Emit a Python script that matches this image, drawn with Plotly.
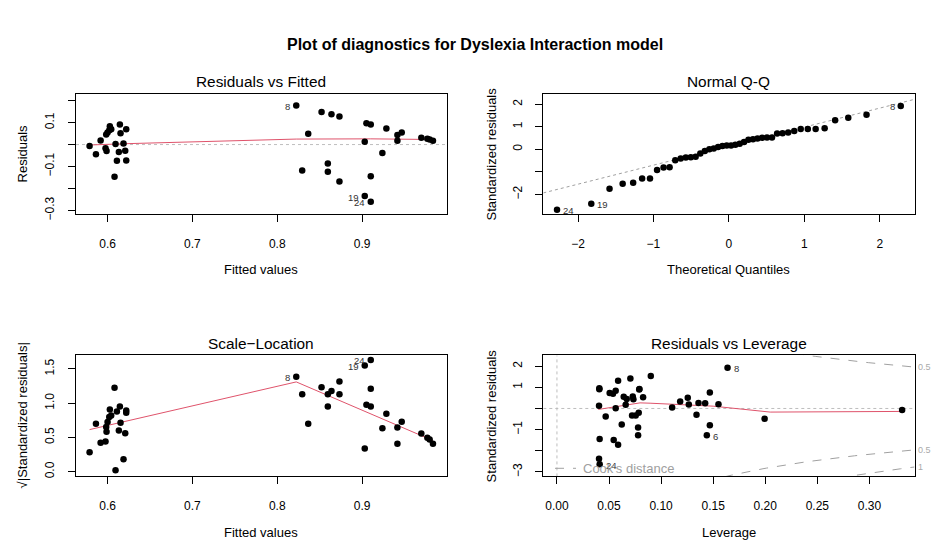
import numpy as np
import plotly.graph_objects as go

# ---------------- data ----------------
fitted = [0.5788, 0.5863, 0.5918, 0.5976, 0.5988, 0.5984, 0.6000, 0.6020, 0.6027, 0.6043,
          0.6082, 0.6094, 0.6110, 0.6133, 0.6145, 0.6153, 0.6188, 0.6208, 0.6220, 0.6220,
          0.8224, 0.8294, 0.8365, 0.8522, 0.8596, 0.8596, 0.8639, 0.8733, 0.8733, 0.9031,
          0.9051, 0.9102, 0.9031, 0.9102, 0.9102, 0.9239, 0.9286, 0.9416, 0.9416, 0.9467,
          0.9698, 0.9769, 0.9796, 0.9835]
residuals = [-0.007, -0.044, 0.019, -0.017, -0.029, 0.046, 0.055, 0.065, 0.083, 0.070,
             -0.147, 0.002, -0.074, -0.034, 0.091, 0.052, 0.005, -0.028, -0.073, 0.070,
             0.178, -0.118, 0.049, 0.148, -0.086, -0.124, 0.138, 0.128, -0.168, 0.013,
             0.097, 0.091, -0.235, -0.261, -0.144, -0.038, 0.073, 0.043, 0.017, 0.055,
             0.031, 0.026, 0.023, 0.017]
sqrt_abs_std = [0.284, 0.702, 0.423, 0.442, 0.582, 0.654, 0.726, 0.800, 0.909, 0.822,
                1.226, 0.024, 0.880, 0.601, 0.952, 0.716, 0.183, 0.563, 0.861, 0.894,
                1.385, 1.130, 0.702, 1.231, 0.952, 1.130, 1.178, 1.130, 1.317, 0.341,
                0.976, 0.952, 1.548, 1.630, 1.212, 0.635, 0.846, 0.644, 0.409, 0.731,
                0.558, 0.495, 0.471, 0.409]
fit_ids = [""] * 44
fit_ids[20] = "8"
fit_ids[32] = "19"
fit_ids[33] = "24"

rf_smooth_x = [0.5788, 0.6220, 0.8224, 0.9102, 0.9835]
rf_smooth_y = [-0.002, 0.004, 0.025, 0.026, 0.023]
sl_smooth_x = [0.5788, 0.8224, 0.9835]
sl_smooth_y = [0.615, 1.310, 0.455]

theo_q = [-2.278, -1.824, -1.582, -1.408, -1.269, -1.150, -1.046, -0.952, -0.866, -0.786,
          -0.711, -0.639, -0.571, -0.505, -0.441, -0.379, -0.319, -0.259, -0.201, -0.143,
          -0.086, -0.029, 0.029, 0.086, 0.143, 0.201, 0.259, 0.319, 0.379, 0.441,
          0.505, 0.571, 0.639, 0.711, 0.786, 0.866, 0.952, 1.046, 1.150, 1.269,
          1.408, 1.582, 1.824, 2.278]
sample_q = [-2.68, -2.41, -1.75, -1.53, -1.48, -1.29, -1.29, -0.92, -0.81, -0.80,
            -0.49, -0.41, -0.36, -0.35, -0.33, -0.19, -0.07, 0.00, 0.03, 0.10,
            0.15, 0.17, 0.17, 0.20, 0.25, 0.32, 0.42, 0.44, 0.48, 0.51,
            0.52, 0.52, 0.70, 0.71, 0.74, 0.81, 0.90, 0.90, 0.90, 0.93,
            1.29, 1.40, 1.53, 1.92]
qq_ids = [""] * 44
qq_ids[0] = "24"
qq_ids[1] = "19"
qq_ids[43] = "8"
qq_intercept = 0.14
qq_slope = 0.842

leverage = [0.0407, 0.0407, 0.0404, 0.0410, 0.0404, 0.0410, 0.0468, 0.0506, 0.0538, 0.0545,
            0.0564, 0.0564, 0.0587, 0.0587, 0.0622, 0.0641, 0.0660, 0.0670, 0.0705, 0.0721,
            0.0728, 0.0734, 0.0756, 0.0785, 0.0779, 0.0779, 0.0792, 0.0790, 0.0827, 0.0901,
            0.1106, 0.1183, 0.1256, 0.1266, 0.1340, 0.1359, 0.1423, 0.1439, 0.1468, 0.1468,
            0.1551, 0.1638, 0.1994, 0.3314]
lev_std = [0.95, 0.91, 0.125, -1.44, -2.37, -2.63, -0.38, 0.73, 0.70, -1.49,
           0.84, 0.016, 1.31, -1.71, -0.76, 0.55, 0.18, 0.45, 1.42, -0.33,
           0.56, 0.44, -0.33, -0.20, -0.90, -1.27, 0.92, 0.90, 0.53, 1.53,
           0.047, 0.33, 0.51, 0.19, -0.30, 0.26, 0.25, -1.26, 0.75, -0.79,
           0.20, 1.92, -0.49, -0.07]
lev_ids = [""] * 44
lev_ids[5] = "24"
lev_ids[37] = "6"
lev_ids[41] = "8"
lev_smooth_x = [0.0397, 0.0670, 0.0798, 0.0894, 0.1183, 0.1500, 0.2048, 0.3314]
lev_smooth_y = [-0.047, 0.171, 0.265, 0.249, 0.171, 0.109, -0.171, -0.140]
n_params = 4
cook_levels = [0.5, 1.0]

# ---------------- styling ----------------
W, H = 931, 546
FONT = "Liberation Sans, Arial, Helvetica, sans-serif"
RED = "#DF536B"
GREY = "#BEBEBE"


def fx(p):
    return p / W


def fy(p):
    return 1 - p / H


left_dom = [fx(76), fx(446.7)]
right_dom = [fx(543.3), fx(914.5)]
top_dom = [fy(216.7), fy(94.7)]
bot_dom = [fy(481.7), fy(359.3)]

ranges = {
    1: ([0.5628, 0.9997], [-0.318, 0.232]),
    2: ([-2.46, 2.46], [-2.878, 2.463]),
    3: ([0.5628, 0.9997], [-0.067, 1.697]),
    4: ([-0.0131, 0.3433], [-3.21, 2.51]),
}

fig = go.Figure()
marker = dict(color="black", size=6.5)


def axname(i, a):
    return a if i == 1 else f"{a}{i}"


def add_points(i, xs, ys):
    fig.add_trace(go.Scatter(x=xs, y=ys, mode="markers", marker=marker,
                             xaxis=axname(i, "x"), yaxis=axname(i, "y"), hoverinfo="skip"))


def add_line(i, xs, ys, color, dash="solid", width=1):
    fig.add_trace(go.Scatter(x=xs, y=ys, mode="lines", line=dict(color=color, dash=dash, width=width),
                             xaxis=axname(i, "x"), yaxis=axname(i, "y"), hoverinfo="skip"))


annotations = []


def add_ids(i, xs, ys, ids):
    xr = ranges[i][0]
    mid = (xr[0] + xr[1]) / 2
    for x, y, t in zip(xs, ys, ids):
        if not t:
            continue
        left = x > mid
        annotations.append(dict(x=x, y=y, xref=axname(i, "x"), yref=axname(i, "y"), text=t,
                                showarrow=False, xanchor="right" if left else "left",
                                xshift=-4 if left else 4, yshift=-1,
                                font=dict(size=9.5, color="#333333", family=FONT)))


# panel 1
add_line(1, [ranges[1][0][0], ranges[1][0][1]], [0, 0], GREY, "dot")
add_line(1, rf_smooth_x, rf_smooth_y, RED)
add_points(1, fitted, residuals)
add_ids(1, fitted, residuals, fit_ids)

# panel 2
qx = np.array(ranges[2][0])
add_line(2, list(qx), list(qq_intercept + qq_slope * qx), "#A0A0A0", "dot")
add_points(2, theo_q, sample_q)
add_ids(2, theo_q, sample_q, qq_ids)

# panel 3
add_line(3, sl_smooth_x, sl_smooth_y, RED)
add_points(3, fitted, sqrt_abs_std)
add_ids(3, fitted, sqrt_abs_std, fit_ids)

# panel 4
add_line(4, [ranges[4][0][0], ranges[4][0][1]], [0, 0], GREY, "dot")
add_line(4, [0, 0], [ranges[4][1][0], ranges[4][1][1]], GREY, "dot")
hmax = ranges[4][0][1]
hh = np.linspace(0.005, hmax, 101)
for c in cook_levels:
    yy = np.sqrt(c * n_params * (1 - hh) / hh)
    add_line(4, list(hh), list(yy), "#A0A0A0", "dash")
    add_line(4, list(hh), list(-yy), "#A0A0A0", "dash")
    yend = np.sqrt(c * n_params * (1 - hmax) / hmax)
    for s in (1, -1):
        if ranges[4][1][0] <= s * yend <= ranges[4][1][1]:
            annotations.append(dict(x=fx(916), y=s * yend, xref="paper", yref="y4",
                                    text=f"{c:g}", showarrow=False, xanchor="left",
                                    font=dict(size=9, color="#AAAAAA", family=FONT)))
add_line(4, lev_smooth_x, lev_smooth_y, RED)
add_points(4, leverage, lev_std)
add_ids(4, leverage, lev_std, lev_ids)

# axes
axis_common = dict(showline=True, mirror=True, linecolor="black", linewidth=1,
                   ticks="outside", ticklen=7, tickcolor="black", tickwidth=1,
                   showgrid=False, zeroline=False, fixedrange=True,
                   tickfont=dict(size=12, color="black", family=FONT))

xticks = {
    1: ([0.6, 0.7, 0.8, 0.9, 1.0], ["0.6", "0.7", "0.8", "0.9", "1.0"]),
    2: ([-2, -1, 0, 1, 2], ["\u22122", "\u22121", "0", "1", "2"]),
    3: ([0.6, 0.7, 0.8, 0.9, 1.0], ["0.6", "0.7", "0.8", "0.9", "1.0"]),
    4: ([0, 0.05, 0.10, 0.15, 0.20, 0.25, 0.30], ["0.00", "0.05", "0.10", "0.15", "0.20", "0.25", "0.30"]),
}
yticks = {
    1: ([-0.3, -0.2, -0.1, 0.0, 0.1, 0.2], ["\u22120.3", "", "\u22120.1", "", "0.1", ""]),
    2: ([-2, -1, 0, 1, 2], ["\u22122", "", "0", "1", "2"]),
    3: ([0.0, 0.5, 1.0, 1.5], ["0.0", "0.5", "1.0", "1.5"]),
    4: ([-3, -2, -1, 0, 1, 2], ["\u22123", "", "\u22121", "", "1", "2"]),
}
doms = {1: (left_dom, top_dom), 2: (right_dom, top_dom), 3: (left_dom, bot_dom), 4: (right_dom, bot_dom)}

layout_axes = {}
for i in range(1, 5):
    xd, yd = doms[i]
    xa = dict(axis_common, domain=xd, range=ranges[i][0], anchor=axname(i, "y"),
              tickvals=xticks[i][0], ticktext=xticks[i][1], ticklabelstandoff=11)
    ya = dict(axis_common, domain=yd, range=ranges[i][1], anchor=axname(i, "x"),
              tickvals=yticks[i][0], ticktext=yticks[i][1], tickangle=-90, ticklabelstandoff=9)
    layout_axes["xaxis" if i == 1 else f"xaxis{i}"] = xa
    layout_axes["yaxis" if i == 1 else f"yaxis{i}"] = ya

# titles
titles = ["Residuals vs Fitted", "Normal Q-Q", "Scale\u2212Location", "Residuals vs Leverage"]
xlabels = ["Fitted values", "Theoretical Quantiles", "Fitted values", "Leverage"]
ylabels = ["Residuals", "Standardized residuals", "\u221a|Standardized residuals|", "Standardized residuals"]
for i in range(1, 5):
    xd, yd = doms[i]
    top = i <= 2
    cx = (xd[0] + xd[1]) / 2
    cy = (yd[0] + yd[1]) / 2
    annotations.append(dict(x=cx, y=fy(82.5 if top else 347.5), xref="paper", yref="paper",
                            text=titles[i - 1], showarrow=False, xanchor="center", yanchor="middle",
                            font=dict(size=15.4, color="black", family=FONT)))
    annotations.append(dict(x=cx, y=fy(272 if top else 538), xref="paper", yref="paper",
                            text=xlabels[i - 1], showarrow=False, xanchor="center", yanchor="middle",
                            font=dict(size=13, color="black", family=FONT)))
    annotations.append(dict(x=fx(22.5 if i in (1, 3) else 491.5), y=cy, xref="paper", yref="paper",
                            text=ylabels[i - 1], showarrow=False, textangle=-90,
                            xanchor="center", yanchor="middle",
                            font=dict(size=13, color="black", family=FONT)))

annotations.append(dict(x=fx(475), y=fy(45), xref="paper", yref="paper",
                        text="Plot of diagnostics for Dyslexia Interaction model", showarrow=False,
                        xanchor="center", yanchor="middle",
                        font=dict(size=16, color="black", family=FONT, weight="bold")))
# Cook's distance legend
annotations.append(dict(x=fx(581), y=fy(473.5), xref="paper", yref="paper", text="Cook's distance",
                        showarrow=False, xanchor="left", yanchor="middle",
                        font=dict(size=13, color="#A0A0A0", family=FONT)))
shapes = [dict(type="line", xref="paper", yref="paper", x0=fx(555), x1=fx(576),
               y0=fy(473.5), y1=fy(473.5), line=dict(color="#A0A0A0", width=1, dash="dash"))]

fig.update_layout(width=W, height=H, margin=dict(l=0, r=0, t=0, b=0),
                  paper_bgcolor="white", plot_bgcolor="white", showlegend=False,
                  font=dict(family=FONT, color="black"),
                  annotations=annotations, shapes=shapes, **layout_axes)

fig.write_html("out.html", config={"displayModeBar": False, "staticPlot": True},
               post_script="document.body.style.margin='0';document.body.style.overflow='hidden';")
